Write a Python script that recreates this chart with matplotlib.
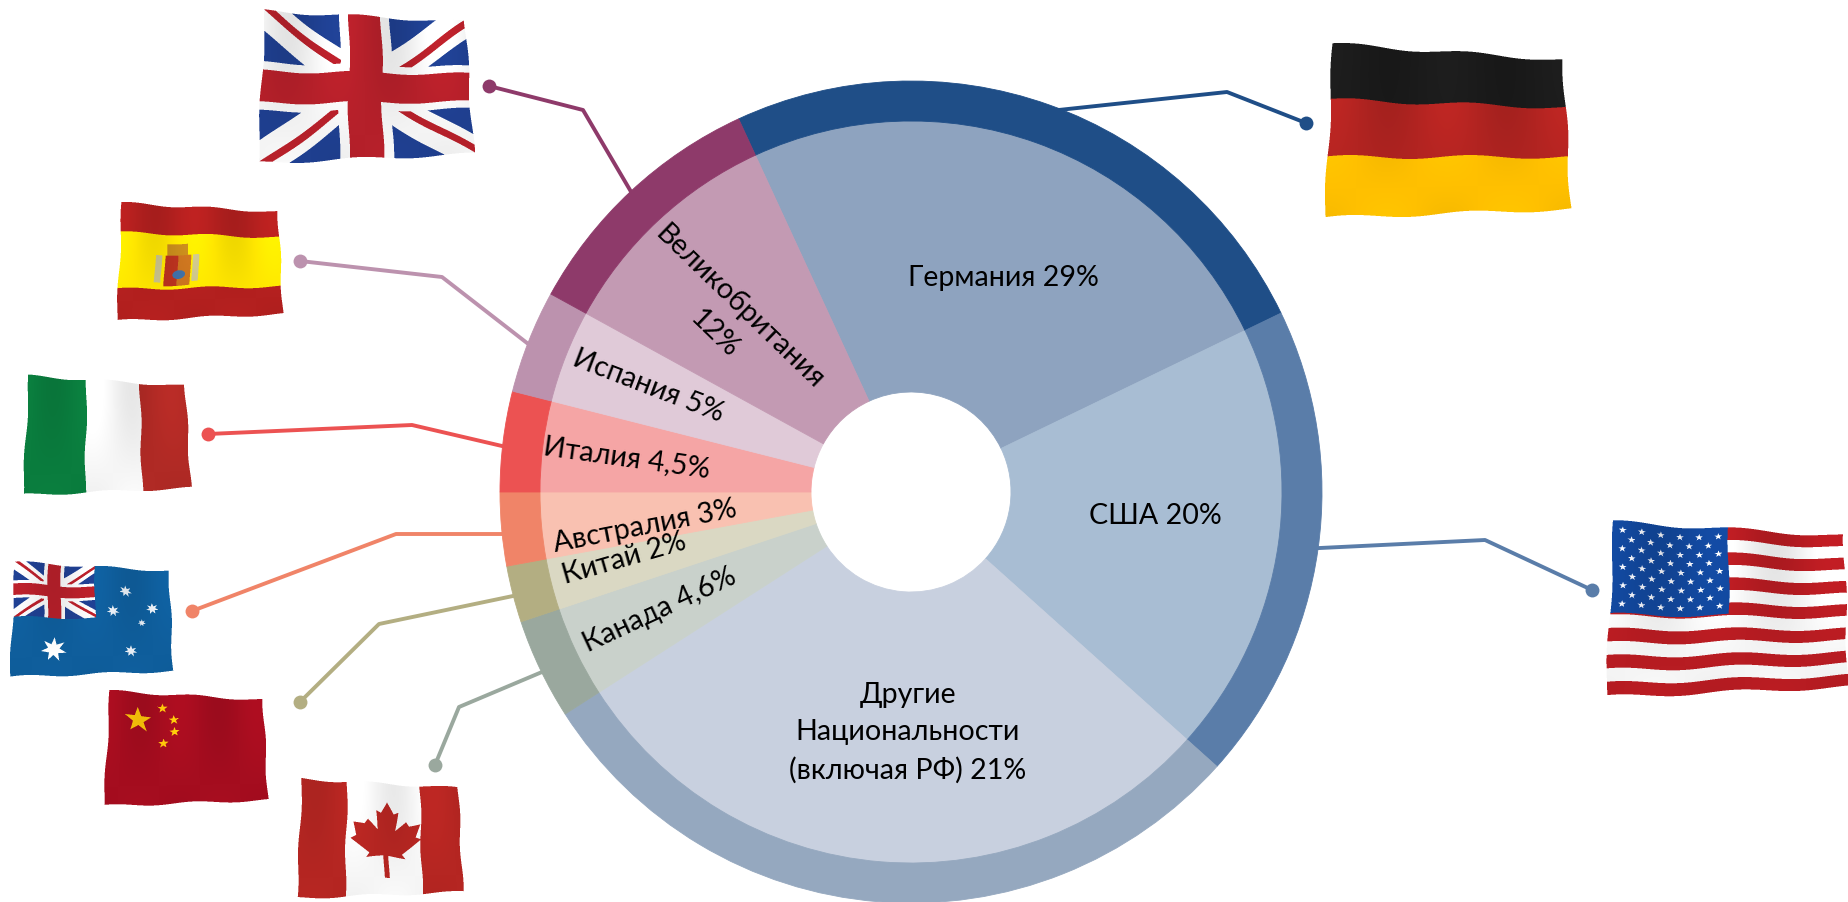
#!/usr/bin/env python3
"""Donut chart of nationalities with leader lines and waving flags"""

import numpy as np
import matplotlib
matplotlib.use('Agg')
import matplotlib.pyplot as plt
from matplotlib.path import Path

plt.rcParams['font.family'] = ['Lato', 'Open Sans', 'Noto Sans', 'DejaVu Sans']

W, H = 1848, 903

# Slices clockwise from the top, size in degrees of arc
countries = ['Германия', 'США', 'Другие', 'Канада', 'Китай', 'Австралия', 'Италия', 'Испания', 'Великобритания']
slice_deg = [89.0, 67.7, 105.4, 14.3, 8.0, 10.4, 14.2, 14.6, 36.4]
ring_colors = ['#1f4e87', '#5a7da9', '#95a8bf', '#9aa89e', '#b3ae82', '#f08468', '#ec5252', '#bc92ae', '#8e3a6a']
fill_colors = ['#8ea3bf', '#a8bdd3', '#c8d0df', '#c9d1cb', '#dad8c3', '#f9c1b1', '#f5a5a5', '#e0cad8', '#c39ab3']

labels = ['Германия 29%', 'США 20%', 'Другие\nНациональности\n(включая РФ) 21%', 'Канада 4,6%', 'Китай 2%',
          'Австралия 3%', 'Италия 4,5%', 'Испания 5%', 'Великобритания\n12%']
label_x = [1003, 1155, 908, 660, 624, 645, 627, 648, 727]
label_y = [278, 516, 733, 610, 559, 526, 458, 386, 320]
label_rot = [0, 0, 0, 25, 16, 11, -8, -21, -44]

# Leader lines: dot, bend, end on the ring
leaders = [
    [(1306, 124), (1227, 93), (1068, 110)],
    [(1592, 591), (1485, 541), (1320, 549)],
    None,
    [(435, 766), (459, 708), (542, 673)],
    [(300, 703), (379, 625), (513, 597)],
    [(192, 612), (396, 535), (502, 535)],
    [(208, 435), (412, 426), (502, 447)],
    [(300, 262), (442, 278), (527, 344)],
    [(489, 87), (583, 111), (630, 191)],
]


def rgb(hexstr):
    return np.array(matplotlib.colors.to_rgb(hexstr))


def fill(img, mask, color):
    img[mask] = rgb(color)


def star_path(cx, cy, r, aspect=1.0, points=5, inner=0.4):
    ang = -np.pi / 2 + np.arange(points * 2) * np.pi / points
    rad = np.where(np.arange(points * 2) % 2 == 0, r, r * inner)
    return Path(np.c_[cx + rad * np.cos(ang) / aspect, cy + rad * np.sin(ang)])


def fill_path(img, u, v, path, color):
    pts = np.c_[u.ravel(), v.ravel()]
    fill(img, path.contains_points(pts).reshape(u.shape), color)


def union_jack(img, u, v, blue='#1f3f8f'):
    # u, v run 0..1 over the jack itself
    inside = (u >= 0) & (u <= 1) & (v >= 0) & (v <= 1)
    fill(img, inside, blue)
    d1, d2 = np.abs(u - v), np.abs(u - (1 - v))
    fill(img, inside & ((d1 < 0.14) | (d2 < 0.14)), '#f4f4f4')
    fill(img, inside & (((u - v > 0) & (u - v < 0.06)) | ((u + v - 1 > 0) & (u + v - 1 < 0.06))), '#b5202a')
    fill(img, inside & ((np.abs(u - 0.5) < 0.125) | (np.abs(v - 0.5) < 0.16)), '#f4f4f4')
    fill(img, inside & ((np.abs(u - 0.5) < 0.08) | (np.abs(v - 0.5) < 0.105)), '#b5202a')


def paint_germany(img, u, v):
    fill(img, v < 0.32, '#1b1b1b')
    fill(img, (v >= 0.32) & (v < 0.65), '#b22421')
    fill(img, v >= 0.65, '#ffc000')


def paint_usa(img, u, v):
    fill(img, np.ones_like(u, bool), '#f5f5f5')
    fill(img, np.floor(v * 13).astype(int) % 2 == 0, '#b71c22')
    sel = (u < 0.5) & (v < 0.53)
    fill(img, sel, '#12479b')
    for row in range(9):
        n = 6 if row % 2 == 0 else 5
        for i in range(n):
            cx = (0.045 if row % 2 == 0 else 0.085) + i * 0.083
            cy = 0.055 + row * 0.053
            m = sel & (np.abs(u - cx) < 0.03) & (np.abs(v - cy) < 0.03)
            if m.any():
                hit = star_path(cx, cy, 0.021, 1.2).contains_points(np.c_[u[m], v[m]])
                idx = np.where(m)
                img[idx[0][hit], idx[1][hit]] = rgb('#f0f2f8')


def paint_uk(img, u, v):
    union_jack(img, u, v)


def paint_spain(img, u, v):
    fill(img, np.ones_like(u, bool), '#b3201f')
    fill(img, (v >= 0.25) & (v < 0.73), '#ffe600')
    fill(img, (np.abs(u - 0.24) < 0.02) & (np.abs(v - 0.55) < 0.12), '#c9c28a')
    fill(img, (np.abs(u - 0.47) < 0.02) & (np.abs(v - 0.55) < 0.12), '#c9c28a')
    fill(img, (u > 0.29) & (u < 0.42) & (v > 0.33) & (v < 0.43), '#c58a1c')
    fill(img, (u > 0.28) & (u < 0.36) & (v > 0.43) & (v < 0.7), '#b8321f')
    fill(img, (u >= 0.36) & (u < 0.44) & (v > 0.43) & (v < 0.7), '#c8731f')
    fill(img, ((u - 0.37) ** 2 + (v - 0.6) ** 2 < 0.0015), '#3f6fa5')


def paint_italy(img, u, v):
    fill(img, u < 0.37, '#0a7d3e')
    fill(img, (u >= 0.37) & (u < 0.71), '#f6f6f6')
    fill(img, u >= 0.71, '#b02a25')


def paint_australia(img, u, v):
    fill(img, np.ones_like(u, bool), '#0f5e9c')
    su, sv = u / 0.52, v / 0.48
    union_jack(img, su, sv, '#1f3f8f')
    fill_path(img, u, v, star_path(0.27, 0.76, 0.11, 1.35, 7, 0.45), '#ffffff')
    for cx, cy, r in [(0.72, 0.22, 0.055), (0.63, 0.42, 0.055), (0.88, 0.37, 0.055), (0.81, 0.51, 0.035), (0.75, 0.79, 0.055)]:
        fill_path(img, u, v, star_path(cx, cy, r, 1.35, 7, 0.45), '#e8eef5')


def paint_china(img, u, v):
    fill(img, np.ones_like(u, bool), '#a50d1f')
    fill_path(img, u, v, star_path(0.19, 0.24, 0.115, 1.3), '#fdc60a')
    for cx, cy in [(0.35, 0.12), (0.42, 0.23), (0.42, 0.34), (0.35, 0.44)]:
        fill_path(img, u, v, star_path(cx, cy, 0.045, 1.3), '#fdc60a')


def paint_canada(img, u, v):
    fill(img, np.ones_like(u, bool), '#f6f6f6')
    fill(img, (u < 0.29) | (u > 0.755), '#b52622')
    half = [(0, .17), (.04, .27), (.07, .25), (.055, .42), (.12, .33), (.14, .37), (.21, .35), (.185, .47),
            (.22, .49), (.1, .63), (.12, .67), (.015, .65), (.015, .85)]
    right = [(0.54 + a, b) for a, b in half]
    left = [(0.54 - a, b) for a, b in half[::-1]]
    fill_path(img, u, v, Path(right + left), '#b52622')


def draw_flag(ax, corners, paint, amp=0.012, waves=2.0, phase=0.0, fold=0.09):
    """Raster a flag into its four corners (tl, tr, bl, br in pixels) with a wave and folds."""
    tl, tr, bl, br = [np.array(c, float) for c in corners]
    xs = [c[0] for c in corners]
    ys = [c[1] for c in corners]
    x0, x1 = int(min(xs)) - 6, int(max(xs)) + 7
    y0, y1 = int(min(ys)) - 6, int(max(ys)) + 7
    ss = 3
    X, Y = np.meshgrid(x0 + (np.arange((x1 - x0) * ss) + 0.5) / ss, y0 + (np.arange((y1 - y0) * ss) + 0.5) / ss)
    u = (X - x0) / (x1 - x0)
    v = (Y - y0) / (y1 - y0)
    for _ in range(6):
        px = (1 - u) * (1 - v) * tl[0] + u * (1 - v) * tr[0] + (1 - u) * v * bl[0] + u * v * br[0]
        py = (1 - u) * (1 - v) * tl[1] + u * (1 - v) * tr[1] + (1 - u) * v * bl[1] + u * v * br[1]
        u = u + (X - px) / (tr[0] - tl[0])
        v = v + (Y - py) / (bl[1] - tl[1])
    u2 = u + amp * 0.5 * np.sin(2 * np.pi * 1.5 * v + phase)
    v2 = v + amp * np.sin(2 * np.pi * waves * u + phase)
    img = np.zeros(u.shape + (3,))
    paint(img, np.clip(u2, 0, 1), np.clip(v2, 0, 1))
    shade = 1 + fold * np.sin(2 * np.pi * waves * u + phase + 1.2) * np.cos(np.pi * 0.6 * v)
    img = np.clip(img * shade[..., None], 0, 1)
    alpha = ((u2 >= 0) & (u2 <= 1) & (v2 >= 0) & (v2 <= 1)).astype(float)
    # box filter down to real pixels
    rows, cols = alpha.shape[0] // ss, alpha.shape[1] // ss
    rgba = np.dstack([img, alpha])
    rgba[..., :3] *= alpha[..., None]
    rgba = rgba.reshape(rows, ss, cols, ss, 4).mean(axis=(1, 3))
    a = rgba[..., 3:]
    rgba[..., :3] = np.where(a > 0, rgba[..., :3] / np.maximum(a, 1e-6), 1)
    ax.imshow(rgba, extent=(x0, x1, H - y1, H - y0), origin='upper', interpolation='nearest', aspect='auto', zorder=4)


fig = plt.figure(figsize=(W / 100, H / 100), dpi=100)
ax = fig.add_axes([0, 0, 1, 1])

# Donut: pale inner slices and a darker outer ring
center = (911, H - 493)
for r, w, cols in [(371, 271, fill_colors), (411, 40, ring_colors)]:
    wedges, _ = ax.pie(slice_deg, radius=r, center=center, startangle=114.8, counterclock=False, colors=cols,
                       wedgeprops=dict(width=w))
    for wedge, col in zip(wedges, cols):
        # same colour edge hides the white seams
        wedge.set_edgecolor(col)
        wedge.set_linewidth(0.6)

for pts, color in zip(leaders, ring_colors):
    if pts is None:
        continue
    xs = [p[0] for p in pts]
    ys = [H - p[1] for p in pts]
    # run the last leg a bit under the ring so no gap shows
    dx, dy = xs[2] - xs[1], ys[2] - ys[1]
    k = 12 / np.hypot(dx, dy)
    xs[2] += dx * k
    ys[2] += dy * k
    ax.plot(xs, ys, color=color, linewidth=2.8, solid_capstyle='butt', zorder=0.5)
    ax.plot(xs[0], ys[0], 'o', color=color, markersize=10, markeredgewidth=0, zorder=2)

for text, x, y, rot in zip(labels, label_x, label_y, label_rot):
    ax.text(x, H - y, text, ha='center', va='center', rotation=rot, rotation_mode='anchor', fontsize=20.6,
            color='black', linespacing=1.52, multialignment='center', zorder=5)

draw_flag(ax, [(1333, 45), (1563, 61), (1325, 219), (1571, 210)], paint_germany, phase=0.4)
draw_flag(ax, [(1614, 523), (1844, 537), (1606, 698), (1848, 688)], paint_usa, phase=1.0, fold=0.07)
draw_flag(ax, [(265, 12), (465, 23), (258, 164), (474, 155)], paint_uk, phase=2.0, fold=0.07)
draw_flag(ax, [(122, 204), (278, 213), (117, 322), (283, 315)], paint_spain, phase=0.8, fold=0.07)
draw_flag(ax, [(29, 377), (185, 387), (23, 496), (191, 489)], paint_italy, phase=1.5, fold=0.06)
draw_flag(ax, [(15, 563), (169, 572), (10, 678), (173, 672)], paint_australia, phase=0.3, fold=0.05)
draw_flag(ax, [(110, 692), (263, 701), (104, 807), (268, 801)], paint_china, phase=0.9, fold=0.06)
draw_flag(ax, [(302, 780), (458, 789), (297, 899), (463, 893)], paint_canada, phase=2.4, fold=0.05)

ax.set_xlim(0, W)
ax.set_ylim(0, H)
ax.axis('off')

fig.savefig('out.png', dpi=100)
